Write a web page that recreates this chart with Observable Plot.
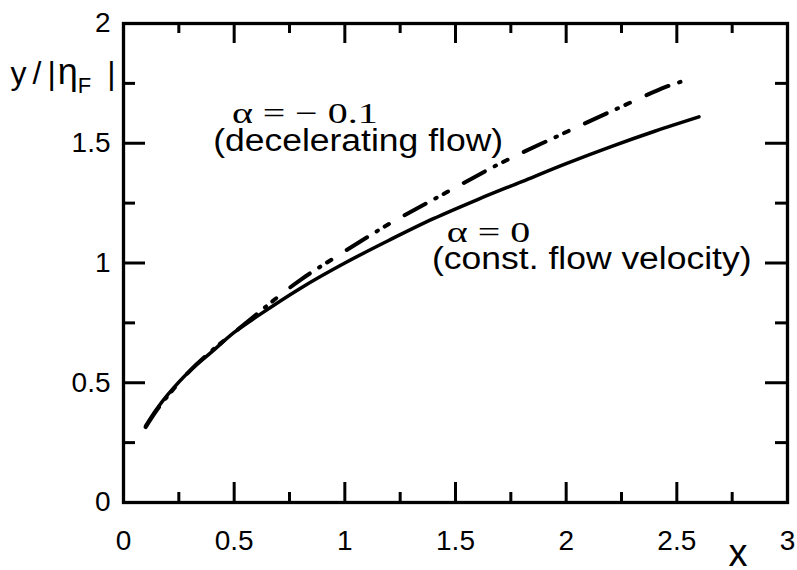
<!DOCTYPE html>
<html><head><meta charset="utf-8">
<script src="https://cdn.jsdelivr.net/npm/d3@7"></script>
<script src="https://cdn.jsdelivr.net/npm/@observablehq/plot@0.6"></script>
<style>body{margin:0;background:#fff;}</style>
</head><body><div id="chart"></div>
<script>
// ---- data ----
const xTicksMajor = [0, 0.5, 1, 1.5, 2, 2.5, 3];
const xTickLabels = ["0", "0.5", "1", "1.5", "2", "2.5", "3"];
const xTicksMinor = [0.25, 0.75, 1.25, 1.75, 2.25, 2.75];
const yTicksMajor = [0, 0.5, 1, 1.5, 2];
const yTickLabels = ["0", "0.5", "1", "1.5", "2"];
const yTicksMinor = [0.25, 0.75, 1.25, 1.75];

// alpha = 0 (constant flow velocity)
const constX = [0.1, 0.15, 0.2, 0.3, 0.4, 0.5, 0.6, 0.8, 1.0, 1.2, 1.4, 1.6, 1.8, 2.0, 2.2, 2.4, 2.6];
const constY = [0.32, 0.39, 0.45, 0.55, 0.63, 0.71, 0.775, 0.895, 1.0, 1.095, 1.185, 1.265, 1.34, 1.415, 1.485, 1.55, 1.61];
// alpha = -0.1 (decelerating flow)
const decelX = [0.1, 0.15, 0.2, 0.3, 0.4, 0.5, 0.6, 0.7, 0.8, 0.95, 1.2, 1.45, 1.7, 1.95, 2.2, 2.45, 2.53];
const decelY = [0.315, 0.385, 0.445, 0.55, 0.635, 0.71, 0.785, 0.86, 0.93, 1.02, 1.163, 1.29, 1.415, 1.525, 1.632, 1.735, 1.76];

const mathLabels = ["α = − 0.1", "α = 0"];
const mathLabelX = [0.49, 1.461];
const mathLabelY = [1.583, 1.087];
const noteLabels = ["(decelerating flow)", "(const. flow velocity)"];
const noteLabelX = [0.405, 1.394];
const noteLabelY = [1.466, 0.977];

const yLabelMain = "y /|η";
const yLabelSub = "F";
const yLabelEnd = "|";
const xLabel = "x";

// ---- build ----
const W = 797, H = 570, ML = 123, MR = 10, MT = 23, MB = 68;
const FW = W - ML - MR, FH = H - MT - MB;
const sans = "'Liberation Sans', Arial, Helvetica, sans-serif";
const serif = "'Liberation Serif', 'Times New Roman', serif";
const constData = constX.map((x, i) => ({x, y: constY[i]}));
const decelData = decelX.map((x, i) => ({x, y: decelY[i]}));
const mathData = mathLabels.map((t, i) => ({t, x: mathLabelX[i], y: mathLabelY[i]}));
const noteData = noteLabels.map((t, i) => ({t, x: noteLabelX[i], y: noteLabelY[i]}));
const xTickData = xTicksMajor.map((v, i) => ({v, t: xTickLabels[i]}));
const yTickData = yTicksMajor.map((v, i) => ({v, t: yTickLabels[i]}));

const tk = {stroke: "black", strokeWidth: 3};
const plot = Plot.plot({
  width: W, height: H,
  marginLeft: ML, marginRight: MR, marginTop: MT, marginBottom: MB,
  style: {fontFamily: sans, fontSize: "28px", background: "white", color: "black"},
  x: {domain: [0, 3], axis: null},
  y: {domain: [0, 2], axis: null},
  marks: [
    Plot.line(constData, {x: "x", y: "y", curve: "catmull-rom", stroke: "black", strokeWidth: 3.5}),
    Plot.line(decelData, {x: "x", y: "y", curve: "catmull-rom", stroke: "black", strokeWidth: 4,
      strokeDasharray: "24 11 1.5 8 5 18"}),
    // inward ticks: bottom / top
    Plot.ruleX(xTicksMajor, {x: d => d, insetTop: FH - 20, ...tk}),
    Plot.ruleX(xTicksMinor, {x: d => d, insetTop: FH - 10, ...tk}),
    Plot.ruleX(xTicksMajor, {x: d => d, insetBottom: FH - 20, ...tk}),
    Plot.ruleX(xTicksMinor, {x: d => d, insetBottom: FH - 10, ...tk}),
    // inward ticks: left / right
    Plot.ruleY(yTicksMajor, {y: d => d, insetRight: FW - 22, ...tk}),
    Plot.ruleY(yTicksMinor, {y: d => d, insetRight: FW - 12, ...tk}),
    Plot.ruleY(yTicksMajor, {y: d => d, insetLeft: FW - 22, ...tk}),
    Plot.ruleY(yTicksMinor, {y: d => d, insetLeft: FW - 12, ...tk}),
    Plot.frame({stroke: "black", strokeWidth: 3.3}),
    // tick labels
    Plot.text(xTickData, {x: "v", text: "t", frameAnchor: "bottom", dy: 28, lineAnchor: "top",
      textAnchor: "middle", fontSize: 28, fill: "black"}),
    Plot.text(yTickData, {y: "v", text: "t", frameAnchor: "left", dx: -13, lineAnchor: "middle",
      textAnchor: "end", fontSize: 28, fill: "black"}),
    // annotations
    Plot.text(mathData, {x: "x", y: "y", text: "t", textAnchor: "start", lineAnchor: "bottom",
      fontFamily: serif, fontSize: 30, fill: "black"}),
    Plot.text(noteData, {x: "x", y: "y", text: "t", textAnchor: "start", lineAnchor: "bottom",
      fontFamily: sans, fontSize: 31, fill: "black"}),
    // axis titles
    Plot.text([yLabelMain], {frameAnchor: "top-left", dx: -113, dy: 60, text: d => d, textAnchor: "start",
      lineAnchor: "bottom", fontFamily: sans, fontSize: 32, fill: "black"}),
    Plot.text([xLabel], {frameAnchor: "bottom-right", dx: -59, dy: 63, text: d => d, textAnchor: "start",
      lineAnchor: "bottom", fontFamily: sans, fontSize: 38, fill: "black"})
  ]
});
document.getElementById("chart").appendChild(plot);

const texts = Array.from(plot.querySelectorAll("text"));
function stretch(labels, factor) {
  texts.filter(t => labels.includes(t.textContent)).forEach(t => {
    const L = t.getComputedTextLength();
    if (L > 0) {
      t.setAttribute("textLength", (L * factor).toFixed(1));
      t.setAttribute("lengthAdjust", "spacingAndGlyphs");
    }
  });
}
stretch(mathLabels, 1.33);
stretch(noteLabels, 1.145);

// y label with subscript
texts.filter(t => t.textContent === yLabelMain).forEach(t => {
  const s = d3.select(t);
  s.text(null);
  s.append("tspan").text("y");
  s.append("tspan").attr("dx", 6).text("/");
  s.append("tspan").attr("dx", 6).text("|");
  s.append("tspan").attr("dx", 2).attr("font-size", 36).text(yLabelMain.slice(-1));
  s.append("tspan").attr("dy", 9).attr("font-size", 22).text(yLabelSub);
  s.append("tspan").attr("dy", -9).attr("dx", 16).text(yLabelEnd);
});
</script>
</body></html>
